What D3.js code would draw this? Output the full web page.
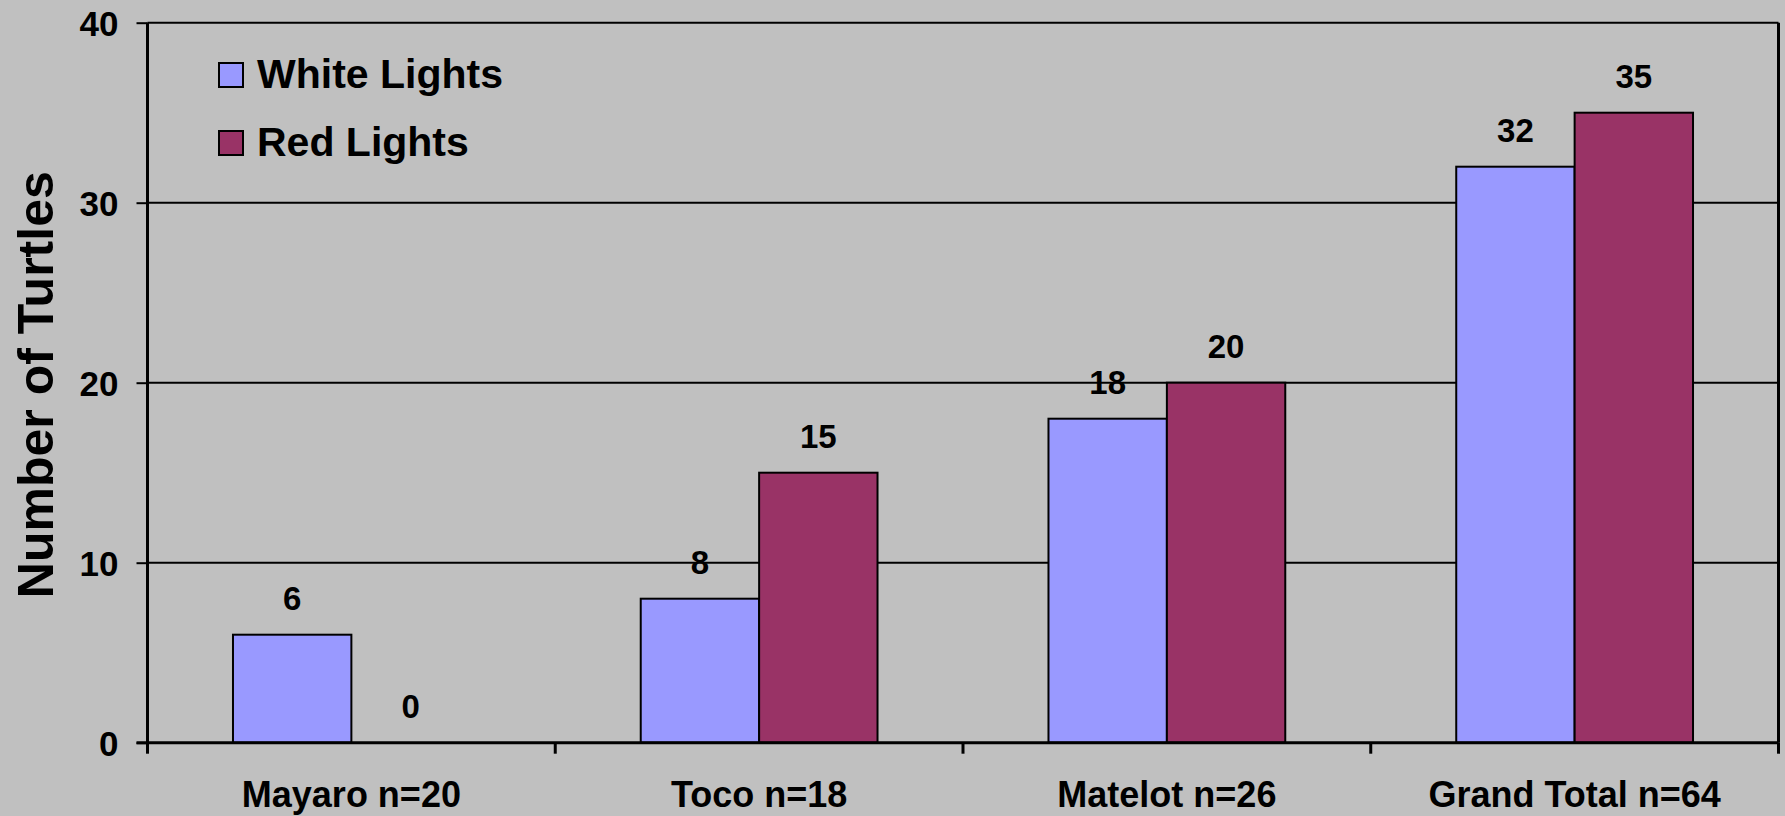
<!DOCTYPE html>
<html>
<head>
<meta charset="utf-8">
<script src="https://cdn.jsdelivr.net/npm/d3@7"></script>
<style>
  html, body { margin: 0; padding: 0; background: #c0c0c0; }
  svg { display: block; }
  text { font-family: "Liberation Sans", Arial, sans-serif; font-weight: bold; fill: #000; }
</style>
</head>
<body>
<svg id="chart" width="1785" height="816"></svg>
<script>
// Turtle counts per site under each lighting type
const categories = ["Mayaro n=20", "Toco n=18", "Matelot n=26", "Grand Total n=64"];
const seriesNames = ["White Lights", "Red Lights"];
const whiteLights = [6, 8, 18, 32];
const redLights = [0, 15, 20, 35];
const yTicks = [0, 10, 20, 30, 40];
const yTitle = "Number of Turtles";
const colors = ["#9999ff", "#993366"];

const values = [whiteLights, redLights];
const rows = categories.map((c, i) => ({
  cat: c,
  bars: seriesNames.map((s, j) => ({ series: s, value: values[j][i], color: colors[j] }))
}));

const svg = d3.select("#chart");
const W = 1785, H = 816;
const plot = { left: 147.5, right: 1778.5, top: 22.7, bottom: 742.7 };

svg.append("rect").attr("width", W).attr("height", H).attr("fill", "#c0c0c0");

const x0 = d3.scaleBand().domain(categories).range([plot.left, plot.right]).padding(0);
const x1 = d3.scaleBand().domain(seriesNames).range([0, x0.bandwidth()])
  .paddingInner(0).paddingOuter(0.722);
const y = d3.scaleLinear().domain([0, 40]).range([plot.bottom, plot.top]);

// horizontal gridlines
svg.append("g").selectAll("line").data(yTicks.filter(t => t > 0)).join("line")
  .attr("x1", plot.left).attr("x2", plot.right)
  .attr("y1", d => y(d)).attr("y2", d => y(d))
  .attr("stroke", "#000").attr("stroke-width", 2);

// right border of the plot area
svg.append("line")
  .attr("x1", plot.right).attr("x2", plot.right)
  .attr("y1", plot.top).attr("y2", plot.bottom)
  .attr("stroke", "#000").attr("stroke-width", 3);

// bars
const groups = svg.append("g").selectAll("g").data(rows).join("g")
  .attr("transform", d => `translate(${x0(d.cat)},0)`);

groups.selectAll("rect").data(d => d.bars.filter(b => b.value > 0)).join("rect")
  .attr("x", d => x1(d.series))
  .attr("y", d => y(d.value))
  .attr("width", x1.bandwidth())
  .attr("height", d => y(0) - y(d.value))
  .attr("fill", d => d.color)
  .attr("stroke", "#000").attr("stroke-width", 2);

// value labels
groups.selectAll("text").data(d => d.bars).join("text")
  .attr("x", d => x1(d.series) + x1.bandwidth() / 2)
  .attr("y", d => y(d.value) - 25)
  .attr("text-anchor", "middle")
  .style("font-size", "33px")
  .text(d => d.value);

// y axis
const yAxis = svg.append("g")
  .attr("transform", `translate(${plot.left},0)`)
  .call(d3.axisLeft(y).tickValues(yTicks).tickSize(11).tickPadding(18).tickFormat(d3.format("d")));
yAxis.select(".domain").attr("stroke", "#000").attr("stroke-width", 3)
  .attr("d", `M0,${plot.top}V${plot.bottom}`);
yAxis.selectAll(".tick line").attr("stroke", "#000").attr("stroke-width", 2);
yAxis.selectAll(".tick text")
  .style("font-size", "35px").style("font-family", "'Liberation Sans', Arial, sans-serif")
  .style("font-weight", "bold").attr("fill", "#000").attr("dy", "0.36em");

// x axis: ticks at category boundaries
const xAxis = svg.append("g").attr("transform", `translate(0,${plot.bottom})`);
xAxis.append("line")
  .attr("x1", plot.left - 11).attr("x2", plot.right)
  .attr("stroke", "#000").attr("stroke-width", 3);
const bounds = categories.map(c => x0(c)).concat([x0(categories[categories.length - 1]) + x0.bandwidth()]);
xAxis.selectAll("line.tk").data(bounds).join("line").attr("class", "tk")
  .attr("x1", d => d).attr("x2", d => d).attr("y1", 0).attr("y2", 11)
  .attr("stroke", "#000").attr("stroke-width", 3);
xAxis.selectAll("text").data(categories).join("text")
  .attr("x", d => x0(d) + x0.bandwidth() / 2)
  .attr("y", 64)
  .attr("text-anchor", "middle")
  .style("font-size", "36px")
  .text(d => d);

// y axis title
svg.append("text")
  .attr("transform", `translate(53,${(plot.top + plot.bottom) / 2 + 2}) rotate(-90)`)
  .attr("text-anchor", "middle")
  .style("font-size", "50px")
  .text(yTitle);

// legend
const legend = svg.append("g").selectAll("g").data(seriesNames).join("g")
  .attr("transform", (d, i) => `translate(219,${63 + i * 68})`);
legend.append("rect")
  .attr("width", 24).attr("height", 24)
  .attr("fill", (d, i) => colors[i])
  .attr("stroke", "#000").attr("stroke-width", 2);
legend.append("text")
  .attr("x", 38).attr("y", 25)
  .style("font-size", "41px")
  .text(d => d);
</script>
</body>
</html>
